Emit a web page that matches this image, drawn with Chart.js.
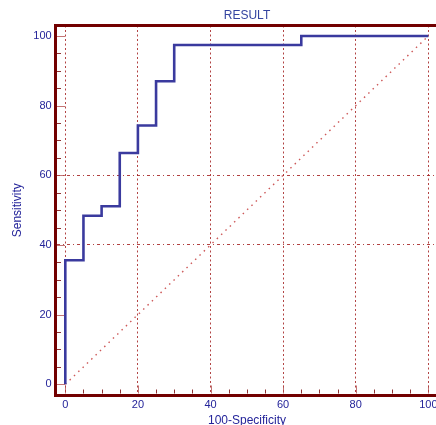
<!DOCTYPE html>
<html>
<head>
<meta charset="utf-8">
<script src="https://cdn.jsdelivr.net/npm/chart.js@4.4.0/dist/chart.umd.min.js"></script>
<style>
  html,body{margin:0;padding:0;background:#fff;overflow:hidden}
  canvas{display:block}
</style>
</head>
<body>
<canvas id="roc" width="450" height="440"></canvas>
<script>
// ROC curve vertices (100-Specificity, Sensitivity), drawn as steps
const rocX = [0, 0, 5, 10, 15, 20, 25, 30, 65, 100];
const rocY = [0, 35.6, 48.4, 51.1, 66.4, 74.3, 87, 97.4, 100, 100];
// chance diagonal
const diagX = [0, 100];
const diagY = [0, 100];
// axis labels and the two horizontal grid lines
const tickVals = [0, 20, 40, 60, 80, 100];
const hGridVals = [40, 60];

const RED = '#720000';
const GRID = 'rgba(165,35,35,0.85)';
const NAVY = '#24249a';
const TITLE = '#3444a0';

Chart.defaults.font.family = 'Liberation Sans, Arial, sans-serif';

const toPts = (xs, ys) => xs.map((x, i) => ({x: x, y: ys[i]}));

// inward minor/major tick marks + top frame line
const axisDeco = {
  id: 'axisDeco',
  beforeDatasetsDraw(chart) {
    const {ctx, chartArea: a, scales: {x, y}} = chart;
    ctx.save();
    ctx.lineWidth = 1;
    for (let v = 0; v <= 100; v += 5) {
      const major = v % 20 === 0;
      const len = major ? 8 : 4;
      ctx.strokeStyle = major ? 'rgba(175,70,70,0.75)' : 'rgba(114,0,0,0.8)';
      const px = Math.round(x.getPixelForValue(v)) + 0.5;
      ctx.beginPath(); ctx.moveTo(px, a.bottom - 1.5); ctx.lineTo(px, a.bottom - 1.5 - len); ctx.stroke();
      const py = Math.round(y.getPixelForValue(v)) + 0.5;
      ctx.beginPath(); ctx.moveTo(a.left + 1.5, py); ctx.lineTo(a.left + 1.5 + len, py); ctx.stroke();
    }
    ctx.restore();
  },
  afterDraw(chart) {
    const {ctx, chartArea: a} = chart;
    ctx.save();
    ctx.strokeStyle = RED; ctx.lineWidth = 3;
    ctx.beginPath(); ctx.moveTo(a.left - 1.5, a.top); ctx.lineTo(chart.width, a.top); ctx.stroke();
    ctx.restore();
  }
};

new Chart(document.getElementById('roc'), {
  type: 'line',
  data: {
    datasets: [
      {data: toPts(rocX, rocY), borderColor: '#3a3a9e', borderWidth: 2.6, stepped: 'before',
       pointRadius: 0, fill: false, tension: 0},
      {data: toPts(diagX, diagY), borderColor: 'rgba(200,70,70,0.9)', borderWidth: 1.4,
       borderDash: [1.5, 4.5], pointRadius: 0, fill: false}
    ]
  },
  options: {
    responsive: false,
    animation: false,
    layout: {padding: {left: 0, top: 0, bottom: 0, right: 11.5}},
    plugins: {
      legend: {display: false},
      tooltip: {enabled: false},
      title: {display: true, text: 'RESULT', color: TITLE, fullSize: false,
              font: {size: 12, weight: 'normal'}, padding: {top: 8.4, bottom: 2.7}}
    },
    scales: {
      x: {
        type: 'linear', min: -2.7, max: 102.8,
        afterBuildTicks: s => { s.ticks = tickVals.map(v => ({value: v})); },
        afterFit: s => { s.height = 45; },
        grid: {color: GRID, lineWidth: 1, drawTicks: false},
        border: {display: true, color: RED, width: 3, dash: [2, 2.5]},
        ticks: {color: NAVY, font: {size: 11}, padding: 3.4, maxRotation: 0},
        title: {display: true, text: '100-Specificity', color: NAVY,
                font: {size: 12}, padding: {top: 0, bottom: 11.8}}
      },
      y: {
        type: 'linear', min: -3.07, max: 103,
        afterBuildTicks: s => { s.ticks = tickVals.map(v => ({value: v})); },
        afterFit: s => { s.width = 55.5; },
        grid: {color: c => (c.tick && hGridVals.includes(c.tick.value)) ? GRID : 'rgba(0,0,0,0)',
               lineWidth: 1, drawTicks: false},
        border: {display: true, color: RED, width: 3, dash: [3, 3, 1, 3]},
        ticks: {color: NAVY, font: {size: 11}, padding: 3.8},
        title: {display: true, text: 'Sensitivity', color: NAVY,
                font: {size: 12}, padding: {top: 10.8, bottom: 0}}
      }
    }
  },
  plugins: [axisDeco]
});
</script>
</body>
</html>
